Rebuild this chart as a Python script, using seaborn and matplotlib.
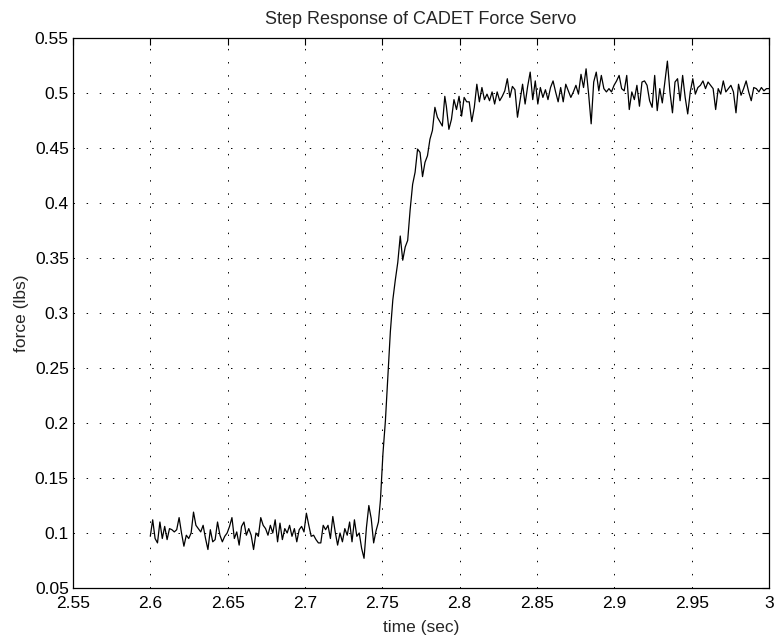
import numpy as np
import pandas as pd
import seaborn as sns
import matplotlib
matplotlib.use("Agg")
import matplotlib.pyplot as plt

# force readings (lbs) in three pieces
# before the step: 2.600 .. 2.7475 s
force_pre = [0.097, 0.112, 0.095, 0.091, 0.110, 0.095, 0.106, 0.094, 0.104, 0.103,
             0.101, 0.103, 0.114, 0.100, 0.088, 0.098, 0.095, 0.100, 0.119, 0.107,
             0.104, 0.101, 0.107, 0.095, 0.085, 0.103, 0.092, 0.094, 0.110, 0.098,
             0.092, 0.097, 0.100, 0.106, 0.114, 0.095, 0.101, 0.089, 0.106, 0.110,
             0.098, 0.104, 0.098, 0.085, 0.100, 0.097, 0.114, 0.107,
             0.104, 0.098, 0.107, 0.100, 0.112, 0.092, 0.109, 0.094, 0.104, 0.100,
             0.107, 0.097, 0.104, 0.092, 0.103, 0.106, 0.101, 0.118, 0.107, 0.097,
             0.098, 0.094, 0.091, 0.091, 0.107, 0.103, 0.107, 0.095, 0.115, 0.101,
             0.089, 0.100, 0.092, 0.104, 0.098, 0.110, 0.092, 0.112, 0.097, 0.100,
             0.086, 0.077, 0.105, 0.125, 0.113, 0.091, 0.102, 0.110]
# the rise: 2.7488 .. 2.7904 s
force_rise = [0.130, 0.172, 0.202, 0.243, 0.283, 0.312, 0.330, 0.346, 0.370, 0.348,
              0.360, 0.366, 0.394, 0.417, 0.428, 0.449, 0.446, 0.424, 0.437, 0.443,
              0.458, 0.466, 0.487, 0.478, 0.474, 0.470, 0.497]
# settled: 2.7914 .. 3.000 s
force_post = [0.488, 0.467, 0.476, 0.494, 0.485, 0.497, 0.479, 0.496, 0.492, 0.492,
              0.474, 0.487, 0.508, 0.492, 0.505, 0.494, 0.499, 0.493, 0.501, 0.490,
              0.501, 0.493, 0.497, 0.502, 0.513, 0.496, 0.506, 0.503, 0.478, 0.493,
              0.508, 0.490, 0.506, 0.519, 0.494, 0.511, 0.490, 0.505, 0.496, 0.503,
              0.494, 0.505, 0.511, 0.501, 0.492, 0.505, 0.492, 0.508, 0.502, 0.496,
              0.501,
              0.507, 0.499, 0.517, 0.505, 0.522, 0.499, 0.472, 0.510, 0.519, 0.502,
              0.516, 0.504, 0.501, 0.504, 0.501, 0.507, 0.511, 0.516, 0.504, 0.502,
              0.516, 0.485, 0.501, 0.494, 0.507, 0.488, 0.510, 0.511, 0.507, 0.493,
              0.487, 0.516, 0.484, 0.504, 0.491, 0.510, 0.529, 0.501, 0.482, 0.510,
              0.513, 0.493, 0.516, 0.496, 0.481, 0.501, 0.513, 0.499, 0.505, 0.507,
              0.511, 0.504, 0.510, 0.507, 0.504, 0.485, 0.504, 0.499, 0.511, 0.501,
              0.504, 0.507, 0.501, 0.482, 0.508, 0.498, 0.504, 0.511, 0.501, 0.493,
              0.505, 0.504, 0.501, 0.505, 0.502, 0.504, 0.504]

seg_start = [2.6, 2.7488, 2.7914]
seg_end = [2.7475, 2.7904, 3.0]

xticks = [2.55, 2.6, 2.65, 2.7, 2.75, 2.8, 2.85, 2.9, 2.95, 3.0]
xlabels = ['2.55', '2.6', '2.65', '2.7', '2.75', '2.8', '2.85', '2.9', '2.95', '3']
yticks = [0.05, 0.1, 0.15, 0.2, 0.25, 0.3, 0.35, 0.4, 0.45, 0.5, 0.55]
ylabels = ['0.05', '0.1', '0.15', '0.2', '0.25', '0.3', '0.35', '0.4', '0.45', '0.5', '0.55']

segs = [force_pre, force_rise, force_post]
t = np.concatenate([np.linspace(a, b, len(s)) for a, b, s in zip(seg_start, seg_end, segs)])
f = np.concatenate(segs)
df = pd.DataFrame({'time': t, 'force': f})

sns.set_style("white")
plt.rcParams['font.family'] = ['Liberation Sans', 'DejaVu Sans']

fig, ax = plt.subplots(figsize=(7.76, 6.39), dpi=100)
fig.subplots_adjust(left=0.094, right=0.991, top=0.9405, bottom=0.0798)

sns.lineplot(data=df, x='time', y='force', ax=ax, color='black', lw=0.9,
             estimator=None, sort=False)

ax.set_xlim(2.55, 3.0)
ax.set_ylim(0.05, 0.55)
ax.set_xticks(xticks)
ax.set_xticklabels(xlabels)
ax.set_yticks(yticks)
ax.set_yticklabels(ylabels)

ax.grid(True, color='black', linestyle=(0, (1.5, 12)), linewidth=0.7)
ax.tick_params(direction='in', length=5, width=0.8, top=True, right=True,
               labelsize=12.5, colors='black')
ax.tick_params(axis='x', pad=6)
ax.tick_params(axis='y', pad=3)
for sp in ax.spines.values():
    sp.set_color('black')
    sp.set_linewidth(0.9)

ax.set_title('Step Response of CADET Force Servo', fontsize=13, pad=10)
ax.set_xlabel('time (sec)', fontsize=12.5, labelpad=6)
ax.set_ylabel('force (lbs)', fontsize=12.5, labelpad=4)

plt.savefig('out.png', dpi=100)
